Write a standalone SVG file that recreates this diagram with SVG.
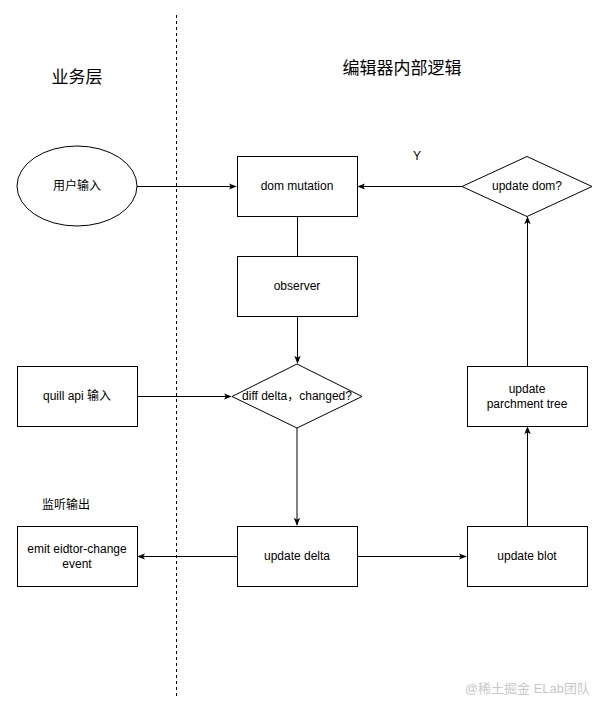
<svg xmlns="http://www.w3.org/2000/svg" width="608" height="714" viewBox="0 0 608 714">
<style>
.box{fill:#fff;stroke:#000;stroke-width:1}
.lbl{font-family:"Liberation Sans","Noto Sans CJK SC",sans-serif;font-size:12px;fill:#000;text-anchor:middle}
.title{font-family:"Liberation Sans","Noto Sans CJK SC",sans-serif;font-size:17px;fill:#000;text-anchor:middle}
.edge{fill:none;stroke:#000;stroke-width:1}
</style>
<defs>
<marker id="arr" viewBox="0 0 10 10" refX="9" refY="5" markerWidth="8" markerHeight="8" markerUnits="userSpaceOnUse" orient="auto">
<path d="M0,1 L10,5 L0,9 L2.5,5 Z" fill="#000"/>
</marker>
</defs>
<rect width="608" height="714" fill="#fff"/>
<line x1="176.5" y1="15" x2="176.5" y2="697" stroke="#000" stroke-width="1" stroke-dasharray="3,3"/>
<text class="title" x="77" y="83">业务层</text>
<text class="title" x="402" y="74">编辑器内部逻辑</text>
<g id="connectors">
<path class="edge" d="M137,186.5 H236" marker-end="url(#arr)"/>
<path class="edge" d="M462,186.5 H358" marker-end="url(#arr)"/>
<path class="edge" d="M297.5,216 V256"/>
<path class="edge" d="M297.5,316 V363" marker-end="url(#arr)"/>
<path class="edge" d="M137,396.5 H231" marker-end="url(#arr)"/>
<path class="edge" d="M297,428 V525" stroke="#333" marker-end="url(#arr)"/>
<path class="edge" d="M237,556.5 H138" marker-end="url(#arr)"/>
<path class="edge" d="M357,556.5 H466" marker-end="url(#arr)"/>
<path class="edge" d="M527.5,526 V427" marker-end="url(#arr)"/>
<path class="edge" d="M527.5,366 V217" marker-end="url(#arr)"/>
<text class="lbl" x="417" y="160">Y</text>
</g>
<g id="user-input">
<ellipse class="box" cx="77" cy="186" rx="60" ry="40"/>
<text class="lbl" x="77" y="190">用户输入</text>
</g>
<g id="dom-mutation">
<rect class="box" x="237.5" y="156.5" width="120" height="60"/>
<text class="lbl" x="297" y="190">dom mutation</text>
</g>
<g id="update-dom">
<polygon class="box" points="527,156.5 592,186.5 527,216.5 462,186.5"/>
<text class="lbl" x="527" y="190">update dom?</text>
</g>
<g id="observer">
<rect class="box" x="237.5" y="256.5" width="120" height="60"/>
<text class="lbl" x="297" y="290">observer</text>
</g>
<g id="quill-api">
<rect class="box" x="17.5" y="366.5" width="120" height="60"/>
<text class="lbl" x="77" y="400">quill api 输入</text>
</g>
<g id="diff-delta">
<polygon class="box" points="297,364 362,396.5 297,428 232,396.5"/>
<text class="lbl" x="297" y="400">diff delta，changed?</text>
</g>
<g id="parchment">
<rect class="box" x="467.5" y="366.5" width="120" height="60"/>
<text class="lbl" x="527" y="393">update</text>
<text class="lbl" x="527" y="408">parchment tree</text>
</g>
<text class="lbl" x="66" y="509">监听输出</text>
<g id="emit">
<rect class="box" x="17.5" y="526.5" width="120" height="60"/>
<text class="lbl" x="77" y="553">emit eidtor-change</text>
<text class="lbl" x="77" y="568">event</text>
</g>
<g id="update-delta">
<rect class="box" x="237.5" y="526.5" width="120" height="60"/>
<text class="lbl" x="297" y="560">update delta</text>
</g>
<g id="update-blot">
<rect class="box" x="467.5" y="526.5" width="120" height="60"/>
<text class="lbl" x="527" y="560">update blot</text>
</g>
<text x="590" y="693" font-family="Liberation Sans,'Noto Sans CJK SC',sans-serif" font-size="13" fill="#c8c8c8" text-anchor="end">@稀土掘金 ELab团队</text>
</svg>
